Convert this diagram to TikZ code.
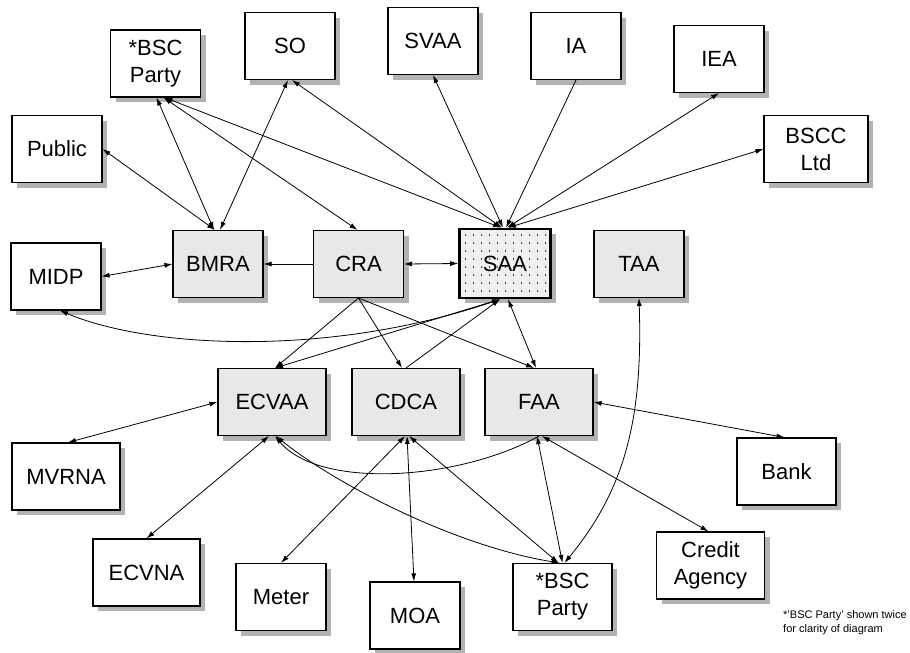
\documentclass[tikz,border=0pt]{standalone}
\usepackage{fontspec}
\setmainfont{Liberation Sans}
\usetikzlibrary{arrows.meta,shadows,calc}
\begin{document}
\begin{tikzpicture}[x=1pt,y=-1pt,
  box/.style={draw=black, line width=1.1pt, fill=white, minimum width=90pt, minimum height=67pt,
    inner sep=0pt, align=center, font=\fontsize{22}{27}\selectfont,
    general shadow={fill=black!30, shadow xshift=5pt, shadow yshift=-5pt}},
  agent/.style={box, fill=black!9},
  wide/.style={minimum width=108pt},
  saabox/.style={box, line width=2.6pt, fill=black!6, minimum width=91pt, minimum height=69pt,
    path picture={
      \foreach \i in {0,...,11}{
        \foreach \j in {0,...,8}{
          \pgfmathtruncatemacro\k{mod(\i+\j,2)}
          \ifnum\k=0
            \fill[black] ([shift={(\i*8+6,\j*8+6)}]path picture bounding box.north west) circle (0.75pt);
          \else
            \fill[black!80] ([shift={(\i*8+5.6,\j*8+4.6)}]path picture bounding box.north west) rectangle ++(0.8,2.8);
          \fi
        }
      }
    }},
  link/.style={line width=0.8pt, {Latex[length=8pt,width=5pt]}-{Latex[length=8pt,width=5pt]}},
  to1/.style={line width=0.8pt, -{Latex[length=8pt,width=5pt]}},
]
\fill[white] (0,0) rectangle (910,653);
\useasboundingbox (0,0) rectangle (910,653);

% top row
\node[box] (bsctop) at (155.5,63.5) {*BSC\\Party};
\node[box] (so) at (290,46) {SO};
\node[box] (svaa) at (433,41) {SVAA};
\node[box] (ia) at (576,46) {IA};
\node[box] (iea) at (719,59) {IEA};
\node[box, minimum width=104pt] (bscc) at (816,149) {BSCC\\Ltd};
\node[box] (public) at (57,149) {Public};
\node[box] (midp) at (56,276.5) {MIDP};

% agents row
\node[agent] (bmra) at (218,264) {BMRA};
\node[agent] (cra) at (358.5,264) {CRA};
\node[saabox] (saa) at (505,263.5) {SAA};
\node[agent] (taa) at (639,264) {TAA};

\node[agent, wide] (ecvaa) at (272,402) {ECVAA};
\node[agent, wide] (cdca) at (406,402) {CDCA};
\node[agent, wide] (faa) at (539,402) {FAA};

% bottom
\node[box, wide] (mvrna) at (66,476.5) {MVRNA};
\node[box, minimum width=99pt] (bank) at (786.5,471.5) {Bank};
\node[box, minimum width=107pt] (ecvna) at (146.5,572.5) {ECVNA};
\node[box] (meter) at (281,597) {Meter};
\node[box] (moa) at (415,615.5) {MOA};
\node[box, minimum width=99pt] (bscbot) at (562.5,597) {*BSC\\Party};
\node[box, wide] (credit) at (710.5,565.5) {Credit\\Agency};

\node[anchor=north west, align=left, inner sep=0pt, font=\fontsize{11}{14}\selectfont]
  (note) at (783,610) {*'BSC Party' shown twice\\for clarity of diagram};

% connectors, upper part
\draw[link] (public.east) -- ([xshift=-3pt]bmra.north);
\draw[link] ([xshift=1pt]bsctop.south) -- ([xshift=-4pt]bmra.north);
\draw[link] ([xshift=-2pt]so.south) -- ([xshift=2pt]bmra.north);
\draw[link] ([xshift=8pt]bsctop.south) -- ([xshift=-1pt]cra.north);
\draw[link] ([xshift=9pt]bsctop.south) -- ([xshift=-4pt]saa.north);
\draw[link] ([xshift=2pt]so.south) -- ([xshift=-3pt]saa.north);
\draw[link] (svaa.south) -- ([xshift=-2pt]saa.north);
\draw[to1] (ia.south) -- ([xshift=1pt]saa.north);
\draw[link] (iea.south) -- ([xshift=2pt]saa.north);
\draw[link] (bscc.west) -- ([xshift=3pt]saa.north);

\draw[link] (midp.east) -- (bmra.west);
\draw[to1] (cra.west) -- (bmra.east);
\draw[link] (cra.east) -- (saa.west);
\draw[link] ([xshift=-5pt]saa.south) .. controls +(-170,58) and +(90,38) .. ([xshift=4pt]midp.south);

% middle
\draw[link] ([xshift=-5pt]saa.south) -- ([xshift=3pt]ecvaa.north);
\draw[to1] (cra.south) -- ([xshift=3pt]ecvaa.north);
\draw[to1] (cra.south) -- ([xshift=-4pt]cdca.north);
\draw[to1] (cra.south) -- ([xshift=-5pt]faa.north);
\draw[to1] (cdca.north) -- ([xshift=-5pt]saa.south);
\draw[link] ([xshift=3pt]saa.south) -- ([xshift=-3pt]faa.north);
\draw[link] (taa.south) .. controls +(4,122) and +(60,-73) .. ([xshift=2pt]bscbot.north);

% lower
\draw[link] (ecvaa.west) -- ([xshift=2pt]mvrna.north);
\draw[link] ([xshift=-3pt]ecvaa.south) -- (ecvna.north);
\draw[to1] (faa.south) .. controls +(-79,44) and +(45,54) .. ([xshift=3pt]ecvaa.south);
\draw[link] ([xshift=4pt]ecvaa.south) .. controls +(54,44) and +(-110,-18) .. ([xshift=-3pt]bscbot.north);
\draw[link] ([xshift=-1pt]cdca.south) -- (meter.north);
\draw[link] ([xshift=1pt]cdca.south) -- ([xshift=-1pt]moa.north);
\draw[link] ([xshift=3pt]cdca.south) -- ([xshift=-4pt]bscbot.north);
\draw[link] ([xshift=-2pt]faa.south) -- (bscbot.north);
\draw[link] ([xshift=3pt]faa.south) -- ([xshift=-2pt]credit.north);
\draw[link] (faa.east) -- ([xshift=-2pt]bank.north);
\end{tikzpicture}
\end{document}
